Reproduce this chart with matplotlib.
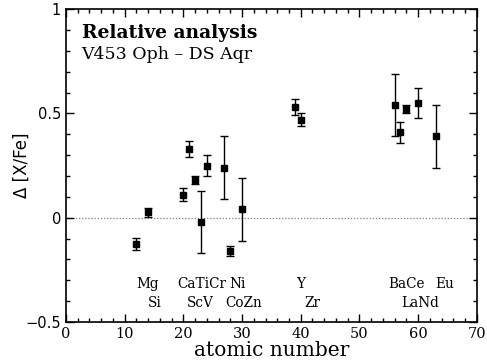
import matplotlib as mpl
import matplotlib.pyplot as plt
from matplotlib.ticker import MultipleLocator

mpl.rcParams['font.family'] = 'DejaVu Serif'

# ------- DATA ------- #
atomic_number = [12, 14, 20, 21, 22, 23, 24, 27, 28, 30, 39, 40, 56, 57, 58, 60, 63]
delta_xfe = [-0.125, 0.025, 0.11, 0.33, 0.18, -0.02, 0.25, 0.24, -0.16, 0.04,
             0.53, 0.47, 0.54, 0.41, 0.52, 0.55, 0.39]
delta_err = [0.03, 0.02, 0.03, 0.04, 0.02, 0.15, 0.05, 0.15, 0.025, 0.15,
             0.04, 0.03, 0.15, 0.05, 0.02, 0.07, 0.15]

# element labels: (text, x in Z units, row)
label_text = ['Mg', 'Si', 'CaTiCr', 'Ni', 'ScV', 'CoZn', 'Y', 'Zr', 'BaCe', 'Eu', 'LaNd']
label_x = [12.0, 14.0, 18.9, 27.9, 20.6, 27.2, 39.2, 40.7, 55.0, 62.9, 57.2]
label_row = [0, 1, 0, 0, 1, 1, 0, 1, 0, 0, 1]
row_y = [-0.317, -0.408]

# ------- PLOT ------- #
fig = plt.figure(figsize=(4.87, 3.64), dpi=100)
ax = fig.add_axes([0.1355, 0.1154, 0.8435, 0.8596])

ax.axhline(0, color='grey', lw=0.9, ls=(0, (1, 1.5)), zorder=0)

ax.errorbar(atomic_number, delta_xfe, yerr=delta_err,
            fmt='s', color='k', ms=4.5, elinewidth=1.0,
            capsize=3, capthick=1.0, zorder=5)

for txt, xx, row in zip(label_text, label_x, label_row):
    ax.text(xx, row_y[row], txt, ha='left', va='center', fontsize=9.8)

# titles inside
ax.text(0.038, 0.925, 'Relative analysis', transform=ax.transAxes,
        fontsize=13.5, fontweight='bold', ha='left', va='center')
ax.text(0.038, 0.855, 'V453 Oph \u2013 DS Aqr', transform=ax.transAxes,
        fontsize=12.5, ha='left', va='center')

# axes limits & ticks
ax.set_xlim(0, 70)
ax.set_ylim(-0.5, 1)
ax.xaxis.set_major_locator(MultipleLocator(10))
ax.xaxis.set_minor_locator(MultipleLocator(2))
ax.yaxis.set_major_locator(MultipleLocator(0.5))
ax.yaxis.set_minor_locator(MultipleLocator(0.1))
ax.set_yticks([-0.5, 0, 0.5, 1])
ax.set_yticklabels(['\u22120.5', '0', '0.5', '1'], family='DejaVu Sans')
ax.tick_params(which='both', direction='in', top=True, right=True,
               labelsize=10.5, width=1.0)
ax.tick_params(which='major', length=6)
ax.tick_params(which='minor', length=3)
for spine in ax.spines.values():
    spine.set_linewidth(1.2)

ax.set_xlabel('atomic number', fontsize=14.5, labelpad=0)
ax.set_ylabel('\u0394 [X/Fe]', fontsize=12, family='DejaVu Sans')
ax.yaxis.set_label_coords(-0.085, 0.5)

plt.savefig('out.png', dpi=100)
